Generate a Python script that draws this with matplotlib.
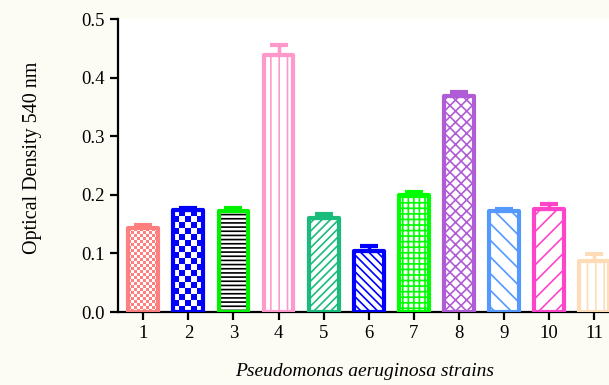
import numpy as np
import matplotlib.pyplot as plt

plt.rcParams['font.family'] = ['Liberation Serif', 'DejaVu Serif']
plt.rcParams['hatch.linewidth'] = 1.2

strains = ['1', '2', '3', '4', '5', '6', '7', '8', '9', '10', '11']
od = [0.143, 0.174, 0.172, 0.439, 0.160, 0.104, 0.200, 0.368, 0.172, 0.176, 0.087]
err = [0.006, 0.004, 0.006, 0.016, 0.007, 0.008, 0.005, 0.008, 0.004, 0.008, 0.012]
colors = ['#ff7f7f', '#0000ff', '#00f000', '#ff99cc', '#1abc7c', '#0000ff',
          '#00ff00', '#b05cd6', '#5599ff', '#ff44cc', '#ffdcb8']
hatch_colors = ['#ff7f7f', '#0000ff', '#000000', '#ff99cc', '#1abc7c', '#0000ff',
                '#00ff00', '#b05cd6', '#5599ff', '#ff44cc', '#ffdcb8']
hatches = [None, None, '----', '||', '////', '\\\\\\\\', '+++', 'xxx', '\\\\', '//', '||']
# checker cell size in pixels (for bars 1 and 2), 0 = none
checker = [3, 6, 0, 0, 0, 0, 0, 0, 0, 0, 0]

fig = plt.figure(figsize=(6.09, 3.85), dpi=100, facecolor='#fcfcf4')
ax = fig.add_axes([0.1938, 0.1896, 0.81, 0.761])
ax.set_facecolor('white')

x = np.arange(1, len(strains) + 1)
w = 0.66
px_x = 44.9   # pixels per x unit
px_y = 586.0  # pixels per y unit

for i in range(len(x)):
    b = ax.bar(x[i], od[i], width=w, color='white', edgecolor=hatch_colors[i],
               linewidth=0, hatch=hatches[i], zorder=2)[0]
    if checker[i]:
        c = checker[i]
        nx = int(np.ceil(w * px_x / c)) + 1
        ny = int(np.ceil(od[i] * px_y / c)) + 1
        pat = (np.add.outer(np.arange(ny), np.arange(nx)) % 2).astype(float)
        cmap = plt.matplotlib.colors.ListedColormap(['white', colors[i]])
        im = ax.imshow(pat, cmap=cmap, interpolation='nearest', aspect='auto',
                       origin='lower',
                       extent=(x[i] - w / 2, x[i] - w / 2 + nx * c / px_x,
                               0, ny * c / px_y), zorder=2.5)
        im.set_clip_path(b)
    ax.bar(x[i], od[i], width=w, facecolor='none', edgecolor=colors[i],
           linewidth=3, joinstyle='round', zorder=3)
    ax.errorbar(x[i], od[i], yerr=[[0], [err[i]]], fmt='none', ecolor=colors[i],
                elinewidth=2.5, capsize=6.5, capthick=3, zorder=2.8)

ax.set_xlim(0.44, 11.38)
ax.set_ylim(0, 0.5)
ax.set_xticks(x)
ax.set_xticklabels(strains)
ax.set_yticks([0.0, 0.1, 0.2, 0.3, 0.4, 0.5])
ax.set_yticklabels(['0.0', '0.1', '0.2', '0.3', '0.4', '0.5'])
ax.spines['top'].set_visible(False)
ax.spines['right'].set_visible(False)
ax.spines['left'].set_linewidth(1.6)
ax.spines['bottom'].set_linewidth(1.6)
ax.tick_params(width=1.6, length=6, labelsize=13.5, direction='out')
ax.set_ylabel('Optical Density 540 nm', fontsize=14.5)
ax.yaxis.set_label_coords(-0.155, 0.525)
ax.set_xlabel('Pseudomonas aeruginosa strains', fontsize=14, style='italic', labelpad=15)

fig.savefig('out.png', dpi=100, facecolor=fig.get_facecolor())
